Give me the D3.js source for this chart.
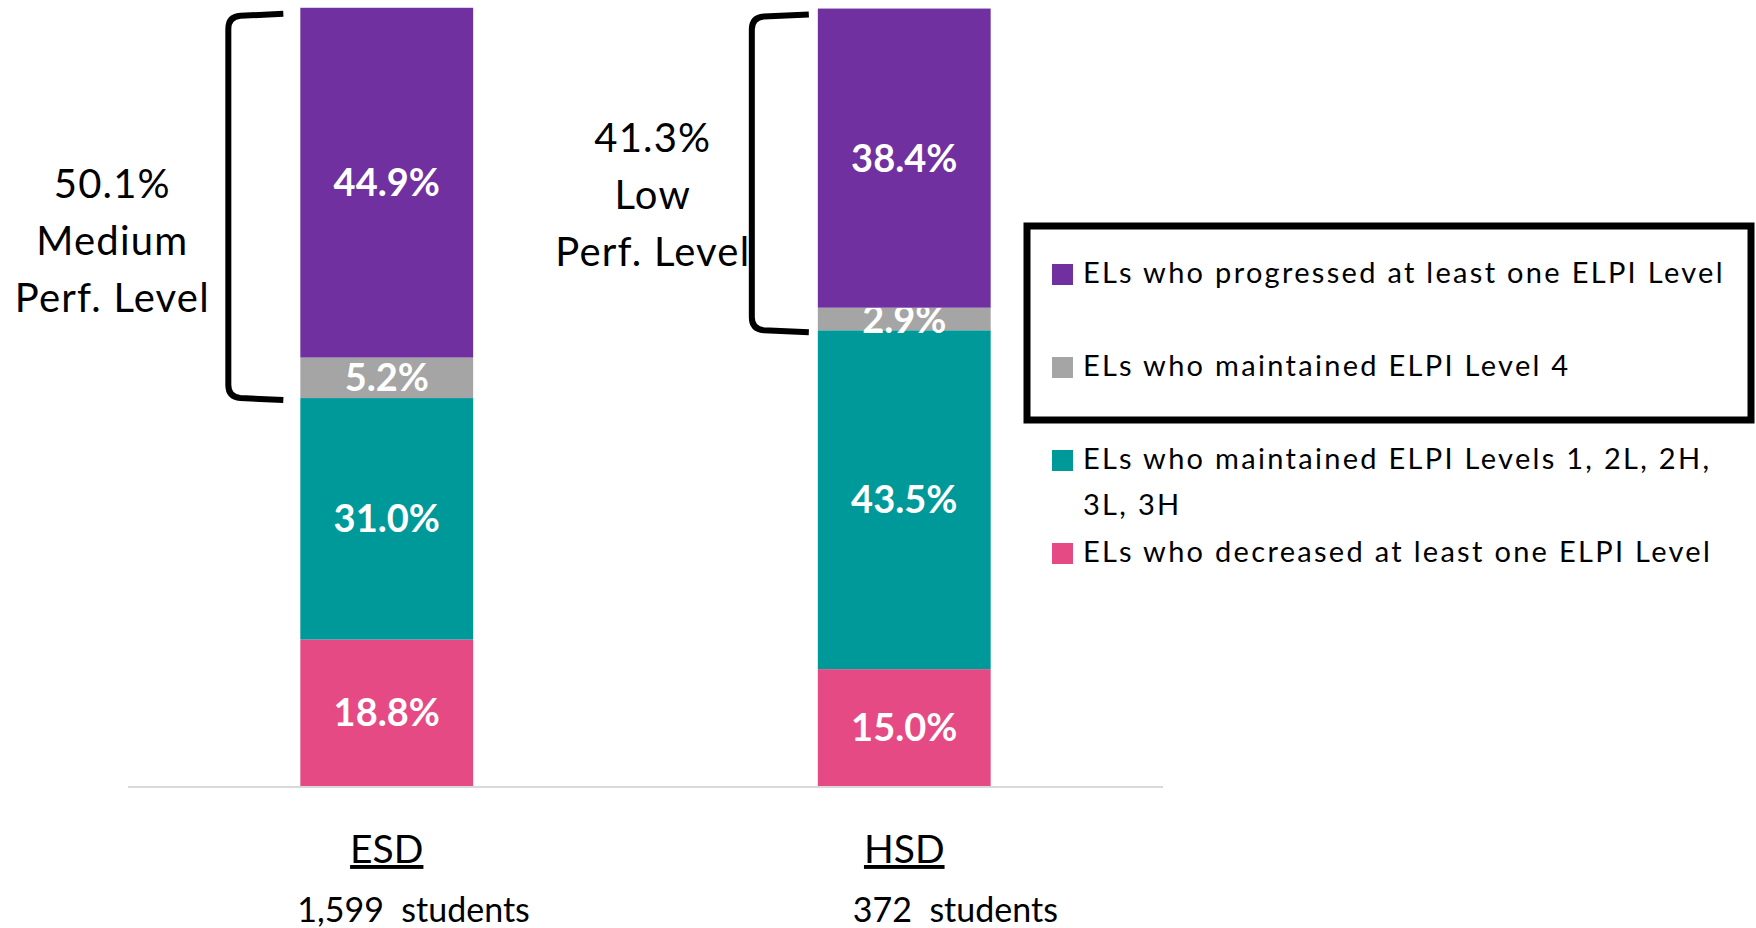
<!DOCTYPE html>
<html>
<head>
<meta charset="utf-8">
<script src="https://cdn.jsdelivr.net/npm/d3@7"></script>
<style>
  body { margin: 0; background: #fff; }
  svg { display: block; font-family: Lato, "Open Sans", sans-serif; }
</style>
</head>
<body>
<script>
// values
const categories = ['ESD', 'HSD'];
const studentCounts = ['1,599', '372'];
const decreased = [18.8, 15.0];
const maintainedLow = [31.0, 43.5];
const maintained4 = [5.2, 2.9];
const progressed = [44.9, 38.4];
const seriesKeys = ['decreased', 'maintainedLow', 'maintained4', 'progressed'];
const seriesColors = ['#e64a84', '#00999a', '#a5a5a5', '#7030a0'];
const legendLabels = [
  ['ELs who progressed at least one ELPI Level'],
  ['ELs who maintained ELPI Level 4'],
  ['ELs who maintained ELPI Levels 1, 2L, 2H,', '3L, 3H'],
  ['ELs who decreased at least one ELPI Level']
];
const legendColors = ['#7030a0', '#a5a5a5', '#00999a', '#e64a84'];
const bracketTotals = ['50.1%', '41.3%'];
const bracketLevels = ['Medium', 'Low'];

const rows = categories.map((c, i) => ({
  cat: c,
  decreased: decreased[i],
  maintainedLow: maintainedLow[i],
  maintained4: maintained4[i],
  progressed: progressed[i]
}));

const svg = d3.select('body').append('svg').attr('width', 1756).attr('height', 928);

const x = d3.scaleBand().domain(categories).range([128, 1163]).paddingInner(0.666).paddingOuter(0.333);
const y = d3.scaleLinear().domain([0, 100]).range([786, 7]);

const stacked = d3.stack().keys(seriesKeys)(rows);

const layers = svg.selectAll('g.layer').data(stacked).enter().append('g')
  .attr('class', 'layer')
  .attr('fill', (d, i) => seriesColors[i]);

layers.selectAll('rect').data(d => d).enter().append('rect')
  .attr('x', d => x(d.data.cat))
  .attr('y', d => y(d[1]))
  .attr('width', x.bandwidth())
  .attr('height', d => y(d[0]) - y(d[1]));

layers.selectAll('text').data(d => d).enter().append('text')
  .attr('x', d => x(d.data.cat) + x.bandwidth() / 2)
  .attr('y', d => (y(d[0]) + y(d[1])) / 2)
  .attr('dy', '0.36em')
  .attr('text-anchor', 'middle')
  .attr('fill', '#fff')
  .attr('font-weight', 'bold')
  .attr('font-size', '38px')
  .text(d => (d[1] - d[0]).toFixed(1) + '%');

// baseline
svg.append('line')
  .attr('x1', 128).attr('x2', 1163)
  .attr('y1', y(0) + 1).attr('y2', y(0) + 1)
  .attr('stroke', '#d9d9d9').attr('stroke-width', 2);

// category labels
svg.selectAll('text.cat').data(categories).enter().append('text')
  .attr('class', 'cat')
  .attr('x', d => x(d) + x.bandwidth() / 2)
  .attr('y', 863)
  .attr('text-anchor', 'middle')
  .attr('font-size', '39px')
  .attr('text-decoration', 'underline')
  .text(d => d);

const countDx = [-3, 35];
svg.selectAll('text.count').data(studentCounts).enter().append('text')
  .attr('class', 'count')
  .attr('x', (d, i) => x(categories[i]) + countDx[i])
  .attr('y', 922)
  .attr('font-size', '34px')
  .style('white-space', 'pre')
  .text(d => d + '  students');

// brackets around the progressed + level 4 part
const bracketX = [-72, -66];
const bracketTip = [-17, -9];
const annDx = [-116, -99];
const annY = [198, 152];
categories.forEach((c, i) => {
  const top = y(progressed[i] + maintained4[i] + maintainedLow[i] + decreased[i]) + 6;
  const bot = y(maintainedLow[i] + decreased[i]) + 2;
  const vx = x(c) + bracketX[i];
  const tx = x(c) + bracketTip[i];
  const r = 12;
  const p = d3.path();
  p.moveTo(tx, top);
  p.lineTo(vx + r, top + 2);
  p.quadraticCurveTo(vx, top + 3, vx, top + r + 3);
  p.lineTo(vx, bot - r - 3);
  p.quadraticCurveTo(vx, bot - 3, vx + r, bot - 2);
  p.lineTo(tx, bot);
  svg.append('path').attr('d', p.toString())
    .attr('fill', 'none').attr('stroke', '#000').attr('stroke-width', 6);

  const lines = [bracketTotals[i], bracketLevels[i], 'Perf. Level'];
  svg.append('g').selectAll('text').data(lines).enter().append('text')
    .attr('x', vx + annDx[i])
    .attr('y', (d, j) => annY[i] + j * 57)
    .attr('text-anchor', 'middle')
    .attr('font-size', '40px')
    .attr('letter-spacing', '1.2px')
    .text(d => d);
});

// legend
svg.append('rect')
  .attr('x', 1027).attr('y', 226).attr('width', 724).attr('height', 194)
  .attr('fill', 'none').attr('stroke', '#000').attr('stroke-width', 7);

const legend = svg.selectAll('g.leg').data(legendLabels).enter().append('g')
  .attr('class', 'leg')
  .attr('transform', (d, i) => `translate(1052, ${283 + i * 93})`);

legend.append('rect')
  .attr('x', 0).attr('y', -19).attr('width', 21).attr('height', 21)
  .attr('fill', (d, i) => legendColors[i]);

legend.each(function(d) {
  d3.select(this).selectAll('text').data(d).enter().append('text')
    .attr('x', 31)
    .attr('y', (t, j) => j * 46)
    .attr('font-size', '29px')
    .attr('letter-spacing', '2.3px')
    .text(t => t);
});
</script>
</body>
</html>
